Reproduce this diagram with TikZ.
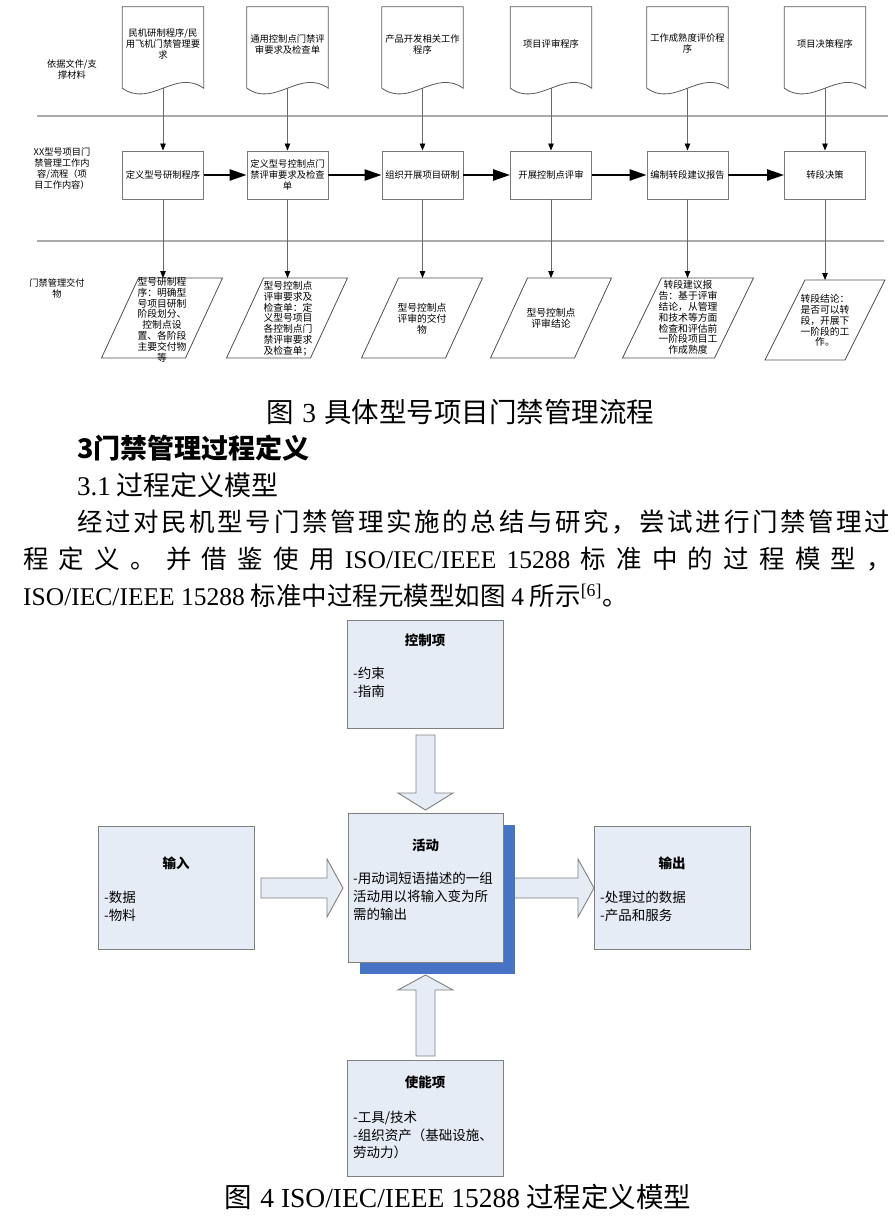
\documentclass[tikz,border=0pt]{standalone}
\usepackage{fontspec}
\usetikzlibrary{arrows.meta,calc}
\setmainfont{Liberation Serif}
\newfontfamily\cjk{Noto Sans CJK SC}
\newfontfamily\latf{Liberation Serif}
\definecolor{docgray}{RGB}{90,90,90}
\definecolor{procgray}{RGB}{120,120,120}
\definecolor{paragray}{RGB}{80,80,80}
\definecolor{conngray}{RGB}{105,105,105}
\definecolor{sepgray}{RGB}{170,170,170}
\definecolor{mline}{RGB}{128,128,128}
\definecolor{mfill}{RGB}{230,236,246}
\definecolor{shadowblue}{RGB}{70,115,196}
\newcommand\drawdoc[1]{\draw[docline] (#1.south west) -- (#1.north west) -- (#1.north east) -- (#1.south east) .. controls ($(#1.south west)!0.65!(#1.south east)+(0,-20)$) and ($(#1.south west)!0.35!(#1.south east)+(0,20)$) .. (#1.south west);}
% #1 cx, #2 top y, #3 bottom y, #4 half width, #5 half slant
\newcommand\drawpara[5]{\draw[paraline] (#1-#4+#5,#2) -- (#1+#4+#5,#2) -- (#1+#4-#5,#3) -- (#1-#4-#5,#3) -- cycle;}
\newcommand\gp{\hfil}
\begin{document}
\begin{tikzpicture}[x=1pt,y=-1pt,
 tfont/.style={font=\cjk\fontsize{9.3}{11}\selectfont},
 doctext/.style={tfont, align=center, inner sep=0pt},
 docbody/.style={minimum width=81pt, minimum height=81pt, inner sep=0pt},
 docline/.style={draw=docgray, line width=0.8pt},
 procbox/.style={draw=procgray, line width=0.9pt, minimum width=81pt, minimum height=48pt, inner sep=0pt, align=center, tfont},
 paraline/.style={draw=paragray, line width=0.8pt},
 paratext/.style={font=\cjk\fontsize{9.8}{10.8}\selectfont, align=center, inner sep=0pt},
 conn/.style={draw=conngray, line width=0.9pt, -{Triangle[length=7pt,width=5.5pt,color=black]}},
 flow/.style={line width=2.4pt, -{Triangle[length=17pt,width=11pt]}},
 sep/.style={draw=sepgray, line width=1.6pt},
 sidelbl/.style={font=\cjk\fontsize{9.2}{11}\selectfont, align=center, inner sep=0pt},
 body/.style={font=\cjk\fontsize{25.5}{30}\selectfont, inner sep=0pt},
 capt/.style={font=\cjk\fontsize{27.5}{30}\selectfont, inner sep=0pt},
 mbox/.style={draw=mline, fill=mfill, line width=0.9pt, inner sep=0pt},
 mtitle/.style={font=\cjk\bfseries\fontsize{13.5}{18}\selectfont, inner sep=0pt},
 mtext/.style={font=\cjk\fontsize{13.5}{17.8}\selectfont, align=left, inner sep=0pt, anchor=west},
 barrow/.style={draw=mline, fill=mfill, line width=0.9pt, line join=miter},
]
\useasboundingbox (0,0) rectangle (894,1217);
\fill[white] (0,0) rectangle (894,1217);

% ---------- Figure 3 ----------
\draw[sep] (37,116) -- (888,116);
\draw[sep] (37,241) -- (884,241);

\node[sidelbl] (l1) at (72,69) {依据文件/支\\撑材料};
\node[sidelbl] (l2) at (62,169) {XX型号项目门\\禁管理工作内\\容/流程（项\\目工作内容）};
\node[sidelbl] (l3) at (57,288) {门禁管理交付\\物};

% documents
\node[docbody] (d1) at (163,47.5) {};
\node[docbody] (d2) at (287.5,47.5) {};
\node[docbody] (d3) at (422.5,47.5) {};
\node[docbody] (d4) at (551,47.5) {};
\node[docbody] (d5) at (687.5,47.5) {};
\node[docbody] (d6) at (825,47.5) {};
\drawdoc{d1}\drawdoc{d2}\drawdoc{d3}\drawdoc{d4}\drawdoc{d5}\drawdoc{d6}
\node[doctext] (d1t) at (163,44) {民机研制程序/民\\用飞机门禁管理要\\求};
\node[doctext] (d2t) at (287.5,44.5) {通用控制点门禁评\\审要求及检查单};
\node[doctext] (d3t) at (422.5,44.5) {产品开发相关工作\\程序};
\node[doctext] (d4t) at (551,44) {项目评审程序};
\node[doctext] (d5t) at (687.5,43.5) {工作成熟度评价程\\序};
\node[doctext] (d6t) at (825,44) {项目决策程序};

% process boxes
\node[procbox] (b1) at (163,175) {定义型号研制程序};
\node[procbox] (b2) at (287.5,175) {定义型号控制点门\\禁评审要求及检查\\单};
\node[procbox] (b3) at (422.5,175) {组织开展项目研制};
\node[procbox] (b4) at (551,175) {开展控制点评审};
\node[procbox] (b5) at (687.5,175) {编制转段建议报告};
\node[procbox] (b6) at (825,175) {转段决策};

% parallelograms
\drawpara{162}{278}{358}{42}{18.5}
\drawpara{287}{278}{358}{42}{18.5}
\drawpara{422}{278}{358}{42}{18.5}
\drawpara{551}{278}{358}{42}{18.5}
\drawpara{688}{278}{358}{46}{19.5}
\drawpara{825}{280}{360}{40}{20}
\coordinate (p1) at (163,278);
\coordinate (p2) at (287.5,278);
\coordinate (p3) at (422.5,278);
\coordinate (p4) at (551,278);
\coordinate (p5) at (687.5,278);
\coordinate (p6) at (825,280);
\node[paratext] (p1t) at (162,319.5) {型号研制程\\序：明确型\\号项目研制\\阶段划分、\\控制点设\\置、各阶段\\主要交付物\\等};
\node[paratext] (p2t) at (288,318.5) {型号控制点\\评审要求及\\检查单：定\\义型号项目\\各控制点门\\禁评审要求\\及检查单；};
\node[paratext] (p3t) at (422,319) {型号控制点\\评审的交付\\物};
\node[paratext] (p4t) at (551,318) {型号控制点\\评审结论};
\node[paratext] (p5t) at (688,317.5) {转段建议报\\告：基于评审\\结论，从管理\\和技术等方面\\检查和评估前\\一阶段项目工\\作成熟度};
\node[paratext] (p6t) at (825,320.5) {转段结论：\\是否可以转\\段，开展下\\一阶段的工\\作。};

% connectors
\foreach \i in {1,...,6} {
  \draw[conn] (d\i.south) -- (b\i.north);
  \draw[conn] (b\i.south) -- (p\i);
}
\draw[flow] (b1.east) -- (b2.west);
\draw[flow] (b2.east) -- (b3.west);
\draw[flow] (b3.east) -- (b4.west);
\draw[flow] (b4.east) -- (b5.west);
\draw[flow] (b5.east) -- (b6.west);

% ---------- text ----------
\node[capt] (cap3) at (460.5,412) {图\hspace{0.3em}{\latf 3}\hspace{0.3em}具体型号项目门禁管理流程};
\node[capt, anchor=west, font=\cjk\bfseries\fontsize{27}{30}\selectfont] (h3) at (77,448) {3门禁管理过程定义};
\node[capt, anchor=west, font=\cjk\fontsize{27}{30}\selectfont] (h31) at (77,485) {{\latf 3.1} 过程定义模型};
\node[body, anchor=west] (t1) at (77,522) {\hbox to 813pt{经\gp 过\gp 对\gp 民\gp 机\gp 型\gp 号\gp 门\gp 禁\gp 管\gp 理\gp 实\gp 施\gp 的\gp 总\gp 结\gp 与\gp 研\gp 究\gp ，\gp 尝\gp 试\gp 进\gp 行\gp 门\gp 禁\gp 管\gp 理\gp 过}};
\node[body, anchor=west] (t2) at (23,559) {\hbox to 869pt{程\gp 定\gp 义\gp 。\gp 并\gp 借\gp 鉴\gp 使\gp 用\gp {\latf ISO/IEC/IEEE}\gp {\latf 15288}\gp 标\gp 准\gp 中\gp 的\gp 过\gp 程\gp 模\gp 型\gp ，}};
\node[body, anchor=west] (t3) at (23,596) {{\latf ISO/IEC/IEEE 15288} 标准中过程元模型如图 {\latf 4} 所示{\latf\textsuperscript{[6]}}。};

% ---------- Figure 4 ----------
\node[mbox, minimum width=156pt, minimum height=108pt] (ctrl) at (425,674) {};
\node[mbox, minimum width=156pt, minimum height=123pt] (inp) at (176,887.5) {};
\node[mbox, minimum width=156pt, minimum height=123pt] (outp) at (672,887.5) {};
\node[mbox, minimum width=156pt, minimum height=116pt] (ena) at (425,1118) {};
\fill[shadowblue] (360,825) rectangle (515,974);
\node[mbox, minimum width=155pt, minimum height=149pt] (act) at (425.5,887.5) {};

% block arrows
\draw[barrow] (416,735) -- (435,735) -- (435,793) -- (453,793) -- (425.5,810) -- (398,793) -- (416,793) -- cycle;
\draw[barrow] (416,1056) -- (435,1056) -- (435,990) -- (453,990) -- (425.5,975) -- (398,990) -- (416,990) -- cycle;
\draw[barrow] (261,878) -- (327,878) -- (327,859) -- (343,888) -- (327,917) -- (327,898) -- (261,898) -- cycle;
\fill[mfill] (515,878) -- (578,878) -- (578,859) -- (594,888) -- (578,917) -- (578,898) -- (515,898) -- cycle;
\draw[barrow, fill=none] (515,878) -- (578,878) -- (578,859) -- (594,888) -- (578,917) -- (578,898) -- (515,898);

% box texts
\node[mtitle] (ctrlT) at (425,640) {控制项};
\node[mtext] (ctrlB) at (353,682.5) {-约束\\-指南};
\node[mtitle] (actT) at (425.5,845) {活动};
\node[mtext] (actB) at (353,896.5) {-用动词短语描述的一组\\活动用以将输入变为所\\需的输出};
\node[mtitle] (inpT) at (176,863) {输入};
\node[mtext] (inpB) at (104,906) {-数据\\-物料};
\node[mtitle] (outT) at (672,863) {输出};
\node[mtext] (outB) at (600,906) {-处理过的数据\\-产品和服务};
\node[mtitle] (enaT) at (425,1082) {使能项};
\node[mtext] (enaB) at (353,1135) {-工具/技术\\-组织资产（基础设施、\\劳动力）};

\node[capt] (cap4) at (458,1197) {图\hspace{0.3em}{\latf 4 ISO/IEC/IEEE 15288} 过程定义模型};
\end{tikzpicture}
\end{document}
